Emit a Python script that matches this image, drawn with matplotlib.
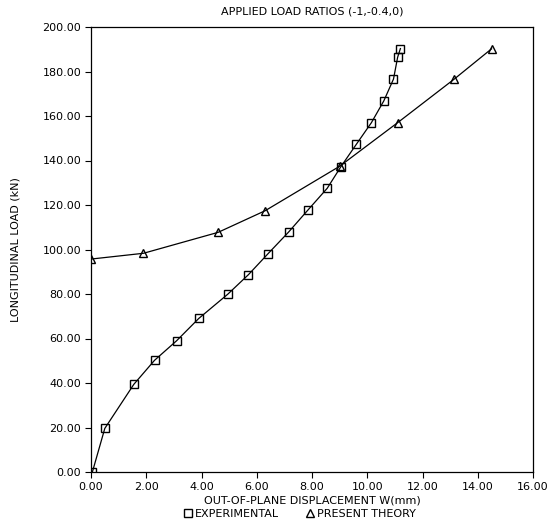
import matplotlib
matplotlib.use("Agg")
import matplotlib.pyplot as plt
from matplotlib.lines import Line2D
from matplotlib.ticker import FormatStrFormatter

# measured out-of-plane displacement (mm) vs longitudinal load (kN)
expDisp = [0.05, 0.5, 1.55, 2.3, 3.1, 3.9, 4.95, 5.7, 6.4, 7.15, 7.85,
           8.55, 9.05, 9.6, 10.15, 10.6, 10.95, 11.1, 11.2]
expLoad = [0.0, 19.6, 39.4, 50.2, 59.0, 69.0, 79.9, 88.7, 98.0, 107.8, 117.7,
           127.5, 137.3, 147.2, 157.0, 166.8, 176.6, 186.4, 190.3]

# present theory
theoryDisp = [0.0, 1.9, 4.6, 6.3, 9.0, 11.1, 13.15, 14.5]
theoryLoad = [95.7, 98.3, 107.7, 117.4, 137.4, 157.0, 176.6, 190.2]

xTicks = [0, 2, 4, 6, 8, 10, 12, 14, 16]
yTicks = [0, 20, 40, 60, 80, 100, 120, 140, 160, 180, 200]

plt.rcParams['font.family'] = ['DejaVu Sans']
plt.rcParams['font.size'] = 8

fig = plt.figure(figsize=(5.53, 5.26), dpi=100)
ax = fig.add_axes([91 / 553, 1 - 472 / 526, 442 / 553, 445 / 526])

ax.plot(expDisp, expLoad, color='black', linewidth=0.9, marker='s',
        markersize=5.5, markerfacecolor='none', markeredgewidth=1.0)
ax.plot(theoryDisp, theoryLoad, color='black', linewidth=0.9, marker='^',
        markersize=5.5, markerfacecolor='none', markeredgewidth=1.0)

ax.set_xlim(0, 16)
ax.set_ylim(0, 200)
ax.set_xticks(xTicks)
ax.set_yticks(yTicks)
ax.xaxis.set_major_formatter(FormatStrFormatter('%.2f'))
ax.yaxis.set_major_formatter(FormatStrFormatter('%.2f'))
ax.tick_params(direction='out', length=4, width=0.8, pad=3)
for spine in ax.spines.values():
    spine.set_linewidth(0.9)

ax.set_title("APPLIED LOAD RATIOS (-1,-0.4,0)", fontsize=8, pad=9)
ax.set_xlabel("OUT-OF-PLANE DISPLACEMENT W(mm)", labelpad=3)
ax.set_ylabel("LONGITUDINAL LOAD (kN)", labelpad=16)

handles = [
    Line2D([], [], color='black', marker='s', linestyle='none', markersize=6,
           markerfacecolor='none'),
    Line2D([], [], color='black', marker='^', linestyle='none', markersize=6,
           markerfacecolor='none'),
]
fig.legend(handles, ["EXPERIMENTAL", "PRESENT THEORY"], ncol=2, frameon=False,
           loc='center', bbox_to_anchor=(300 / 553, 1 - 514 / 526),
           handlelength=0.6, handletextpad=0.3, columnspacing=2.5,
           fontsize=8, borderpad=0)

fig.savefig("out.png", dpi=100)
